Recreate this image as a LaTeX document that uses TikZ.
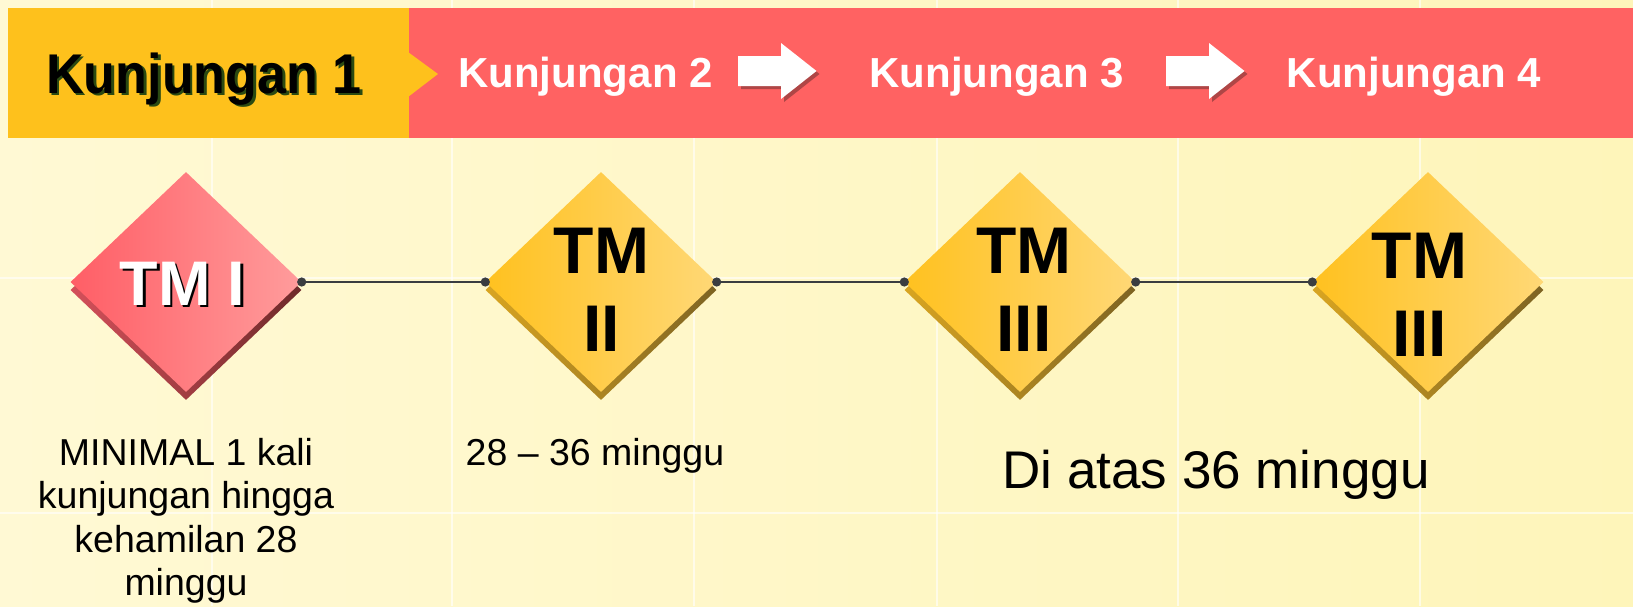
\documentclass[tikz,border=0pt]{standalone}
\usepackage{fontspec}
\usepackage{graphicx}
\setmainfont{Liberation Sans}
\usetikzlibrary{shapes.geometric,arrows.meta}
\definecolor{bgL}{HTML}{FFF9D4}
\definecolor{bgR}{HTML}{FEF5BA}
\definecolor{banYel}{HTML}{FEC11C}
\definecolor{banRed}{HTML}{FF6262}
\definecolor{redL}{HTML}{FF5E66}
\definecolor{redR}{HTML}{FF9C9C}
\definecolor{redDL}{HTML}{D4505A}
\definecolor{redDR}{HTML}{6E2A2A}
\definecolor{yelL}{HTML}{FFC11F}
\definecolor{yelR}{HTML}{FFD876}
\definecolor{yelDL}{HTML}{D9A521}
\definecolor{yelDR}{HTML}{7D6322}
\definecolor{lineGray}{HTML}{3A3D40}
\definecolor{shGreen}{HTML}{2B4A12}
\definecolor{shRed}{HTML}{8E3B3B}
\tikzset{
  tmbox/.style={diamond, minimum width=231pt, minimum height=220pt, inner sep=0pt},
  tmdepth/.style 2 args={tmbox, yshift=-8pt, left color=#1, right color=#2},
  tmface/.style 2 args={tmbox, left color=#1, right color=#2},
  tmtext/.style={font=\bfseries\fontsize{66}{78}\selectfont, align=center, inner sep=0pt},
  headtext/.style={font=\bfseries\fontsize{42}{50}\selectfont, text=white, anchor=base, inner sep=0pt},
  labeltext/.style={font=\fontsize{37.5}{43.5}\selectfont, align=center, inner sep=0pt},
  tmline/.style={lineGray, line width=2.5pt, {Circle[length=9pt]}-{Circle[length=9pt]}, shorten <=-4.5pt, shorten >=-4.5pt},
  gridline/.style={white, line width=2.5pt, opacity=0.6},
}
\begin{document}
\begin{tikzpicture}[x=1pt, y=-1pt]
	  \useasboundingbox (0,0) rectangle (1633,606);
	  \shade[left color=bgL, right color=bgR] (0,0) rectangle (1633,606);
	  \foreach \gx in {212,452,694,937,1178,1420}
	    \draw[gridline] (\gx,0) -- (\gx,606);
	  \foreach \gy in {278,513}
	    \draw[gridline] (0,\gy) -- (1633,\gy);
	  % banner
	  \fill[banRed] (409,8) rectangle (1633,137.5);
	  \fill[banYel] (8,8) rectangle (409,137.5);
	  \fill[banYel] (408,52) -- (438,74) -- (408,97) -- cycle;
	  \node[font=\bfseries\fontsize{56}{60}\selectfont, text=shGreen, anchor=base, inner sep=0pt] at (206.5,95) {\scalebox{0.93}[1]{Kunjungan 1}};
	  \node[font=\bfseries\fontsize{56}{60}\selectfont, text=black, anchor=base, inner sep=0pt] (k1) at (204,93) {\scalebox{0.93}[1]{Kunjungan 1}};
	  \node[headtext] (k2) at (585.5,87) {Kunjungan 2};
	  \node[headtext] (k3) at (996.5,87) {Kunjungan 3};
	  \node[headtext] (k4) at (1414,87) {Kunjungan 4};
	  \foreach \ax in {738,1166} {
	    \fill[shRed, opacity=0.7] (\ax+3,59) -- (\ax+46,59) -- (\ax+46,46) -- (\ax+81.5,74) -- (\ax+46,102) -- (\ax+46,89) -- (\ax+3,89) -- cycle;
	    \fill[white] (\ax,56) -- (\ax+43,56) -- (\ax+43,43) -- (\ax+78.5,71) -- (\ax+43,99) -- (\ax+43,86) -- (\ax,86) -- cycle;
	  }
	  % diamonds
	  \node[tmdepth={redDL}{redDR}] at (186,282) {};
	  \node[tmdepth={yelDL}{yelDR}] at (601,282) {};
	  \node[tmdepth={yelDL}{yelDR}] at (1020,282) {};
	  \node[tmdepth={yelDL}{yelDR}] at (1428,282) {};
	  \node[tmface={redL}{redR}] (tm1) at (186,282) {};
	  \node[tmface={yelL}{yelR}] (tm2) at (601,282) {};
	  \node[tmface={yelL}{yelR}] (tm3) at (1020,282) {};
	  \node[tmface={yelL}{yelR}] (tm4) at (1428,282) {};
	  \draw[tmline] (tm1.east) -- (tm2.west);
	  \draw[tmline] (tm2.east) -- (tm3.west);
	  \draw[tmline] (tm3.east) -- (tm4.west);
	  \node[font=\bfseries\fontsize{63}{70}\selectfont, text=black, anchor=base, inner sep=0pt] at (185,307.5) {TM I};
	  \node[font=\bfseries\fontsize{63}{70}\selectfont, text=white, anchor=base, inner sep=0pt] (tm1txt) at (182.5,305) {TM I};
	  \node[tmtext] (tm2txt) at (601.5,289.5) {TM\\II};
	  \node[tmtext] (tm3txt) at (1024,289.5) {TM\\III};
	  \node[tmtext] (tm4txt) at (1419.5,294.5) {TM\\III};
	  % labels
	  \node[labeltext, anchor=north] (lab1) at (186,438) {MINIMAL 1 kali\\kunjungan hingga\\kehamilan 28\\minggu};
	  \node[labeltext, anchor=base] (lab2) at (595,465) {28 – 36 minggu};
	  \node[font=\fontsize{53}{60}\selectfont, anchor=base, inner sep=0pt] (lab3) at (1216,488) {Di atas 36 minggu};
	\end{tikzpicture}
\end{document}
